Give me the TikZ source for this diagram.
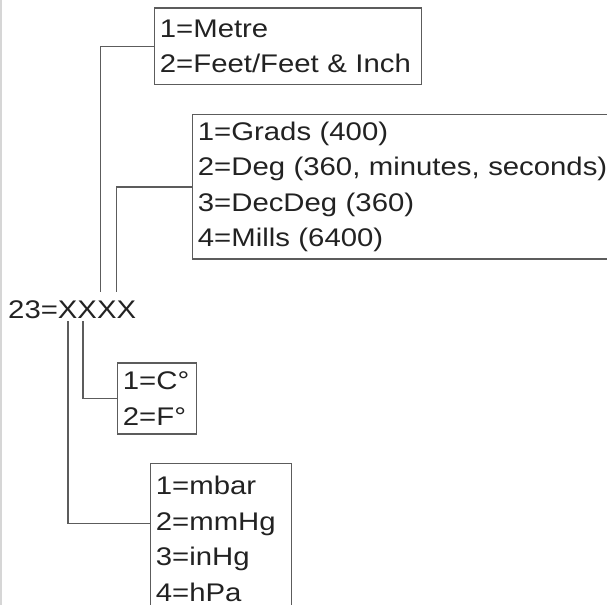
\documentclass[tikz,border=0pt]{standalone}
\usepackage{fontspec}
\setmainfont{Liberation Sans}[FakeStretch=1.15]
\usepackage{tikz}

\definecolor{inkgrey}{HTML}{222222}
\definecolor{boxgrey}{HTML}{5C5C5C}
\definecolor{edgegrey}{HTML}{D6D6D6}

\begin{document}
\begin{tikzpicture}[x=1bp,y=-1bp,
  menu/.style={draw=boxgrey,line width=1.4bp,anchor=north west,align=left,inner xsep=5.5bp,inner ysep=0bp,
    font=\fontsize{25.5bp}{35.5bp}\selectfont,text=inkgrey},
  code/.style={font=\fontsize{25.5bp}{35.5bp}\selectfont,text=inkgrey,anchor=base west,inner xsep=0bp,inner ysep=3bp,
    text height=23bp,text depth=0bp},
  link/.style={draw=boxgrey,line width=1.3bp}
]
\useasboundingbox (0,0) rectangle (607,605);
\clip (0,0) rectangle (607,605);
\draw[edgegrey,line width=2bp] (1,0) -- (1,605);
% the setting code
\node[code] (xxxx) at (8,318) {23=XXXX};
% option boxes
\node[menu,text width=256bp,minimum height=76.7bp] (unitbox) at (153.7,7.3) {1=Metre\\2=Feet/Feet \& Inch};
\node[menu,text width=420bp,minimum height=144.3bp] (anglebox) at (191.7,114) {1=Grads (400)\\2=Deg (360, minutes, seconds)\\3=DecDeg (360)\\4=Mills (6400)};
\node[menu,text width=68bp,minimum height=71bp] (tempbox) at (116.7,362.3) {1=C°\\2=F°};
\node[menu,text width=130.3bp,minimum height=150bp] (pressbox) at (149.7,463) {1=mbar\\2=mmHg\\3=inHg\\4=hPa};
% connectors
\draw[link] ([xshift=92.7bp]xxxx.north west) |- (unitbox.west);
\draw[link] ([xshift=108.3bp]xxxx.north west) |- (anglebox.west);
\draw[link] ([xshift=75bp]xxxx.south west) |- (tempbox.west);
\draw[link] ([xshift=60bp]xxxx.south west) |- ([yshift=15bp]pressbox.west);
\end{tikzpicture}
\end{document}
